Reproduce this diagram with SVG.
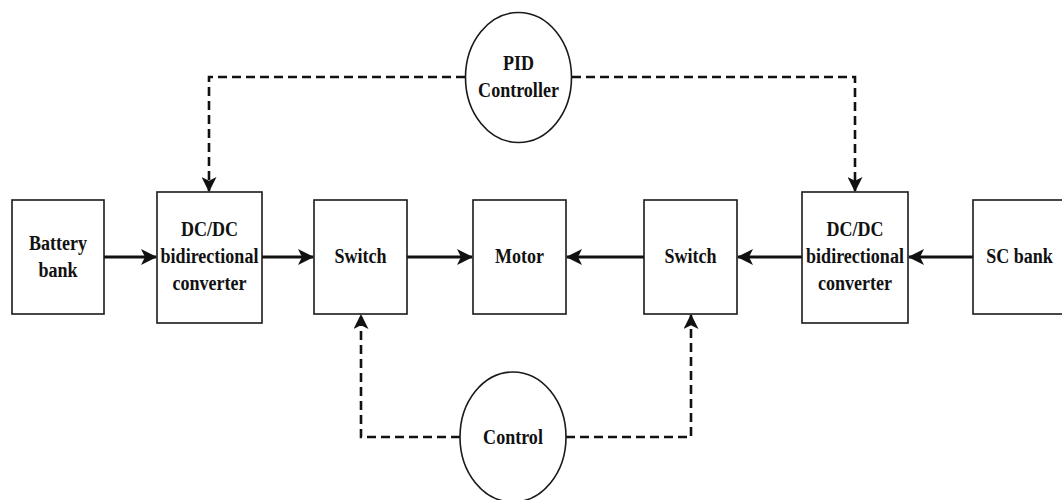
<svg xmlns="http://www.w3.org/2000/svg" width="1062" height="500" viewBox="0 0 1062 500">
  <defs>
    <style>
      .box { fill: #ffffff; stroke: #1a1a1a; stroke-width: 1.6; }
      .oval { fill: #ffffff; stroke: #1a1a1a; stroke-width: 1.6; }
      .lbl { font-family: "Liberation Serif", "Times New Roman", serif; font-weight: bold; font-size: 22px; fill: #111111; text-anchor: middle; }
      .flow { fill: none; stroke: #111111; stroke-width: 3; }
      .ctrl { fill: none; stroke: #111111; stroke-width: 2.6; stroke-dasharray: 9 5; }
    </style>
    <marker id="solidHead" markerUnits="userSpaceOnUse" viewBox="0 0 16 16" markerWidth="16" markerHeight="16" refX="15" refY="8" orient="auto">
      <path d="M0,0 L16,8 L0,16 L4,8 Z" fill="#111111"/>
    </marker>
    <marker id="dashHead" markerUnits="userSpaceOnUse" viewBox="0 0 15 15" markerWidth="15" markerHeight="15" refX="14" refY="7.5" orient="auto">
      <path d="M0,0 L15,7.5 L0,15 L3.8,7.5 Z" fill="#111111"/>
    </marker>
  </defs>

  <rect width="1062" height="500" fill="#ffffff"/>

  <!-- connectors -->
  <g id="connectors">
    <!-- power flow -->
    <line class="flow" x1="104" y1="257" x2="156" y2="257" marker-end="url(#solidHead)"/>
    <line class="flow" x1="262" y1="257" x2="313" y2="257" marker-end="url(#solidHead)"/>
    <line class="flow" x1="407" y1="257" x2="472" y2="257" marker-end="url(#solidHead)"/>
    <line class="flow" x1="644" y1="257" x2="567" y2="257" marker-end="url(#solidHead)"/>
    <line class="flow" x1="802" y1="257" x2="738" y2="257" marker-end="url(#solidHead)"/>
    <line class="flow" x1="973" y1="257" x2="909" y2="257" marker-end="url(#solidHead)"/>
    <!-- PID control signals -->
    <polyline class="ctrl" points="465,77 209,77 209,191" marker-end="url(#dashHead)"/>
    <polyline class="ctrl" points="572,77 855,77 855,191" marker-end="url(#dashHead)"/>
    <!-- switch control signals -->
    <polyline class="ctrl" points="460,437 361,437 361,315" marker-end="url(#dashHead)"/>
    <polyline class="ctrl" points="566,437 691,437 691,315" marker-end="url(#dashHead)"/>
  </g>

  <g id="battery-bank">
    <rect class="box" x="12" y="200" width="92" height="114"/>
    <g transform="translate(58,0) scale(0.82,1)">
      <text class="lbl" x="0" y="250">Battery</text>
      <text class="lbl" x="0" y="277">bank</text>
    </g>
  </g>

  <g id="converter-left">
    <rect class="box" x="157" y="192" width="105" height="131"/>
    <g transform="translate(209.5,0) scale(0.82,1)">
      <text class="lbl" x="0" y="236">DC/DC</text>
      <text class="lbl" x="0" y="263">bidirectional</text>
      <text class="lbl" x="0" y="290">converter</text>
    </g>
  </g>

  <g id="switch-left">
    <rect class="box" x="314" y="200" width="93" height="114"/>
    <g transform="translate(360.5,0) scale(0.82,1)">
      <text class="lbl" x="0" y="263">Switch</text>
    </g>
  </g>

  <g id="motor">
    <rect class="box" x="473" y="200" width="93" height="114"/>
    <g transform="translate(519.5,0) scale(0.82,1)">
      <text class="lbl" x="0" y="263">Motor</text>
    </g>
  </g>

  <g id="switch-right">
    <rect class="box" x="644" y="200" width="93" height="114"/>
    <g transform="translate(690.5,0) scale(0.82,1)">
      <text class="lbl" x="0" y="263">Switch</text>
    </g>
  </g>

  <g id="converter-right">
    <rect class="box" x="802" y="192" width="106" height="131"/>
    <g transform="translate(855,0) scale(0.82,1)">
      <text class="lbl" x="0" y="236">DC/DC</text>
      <text class="lbl" x="0" y="263">bidirectional</text>
      <text class="lbl" x="0" y="290">converter</text>
    </g>
  </g>

  <g id="sc-bank">
    <rect class="box" x="973" y="200" width="93" height="114"/>
    <g transform="translate(1019.5,0) scale(0.82,1)">
      <text class="lbl" x="0" y="263">SC bank</text>
    </g>
  </g>

  <g id="pid-controller">
    <ellipse class="oval" cx="518.5" cy="77.5" rx="53" ry="65"/>
    <g transform="translate(518.5,0) scale(0.82,1)">
      <text class="lbl" x="0" y="70">PID</text>
      <text class="lbl" x="0" y="97">Controller</text>
    </g>
  </g>

  <g id="control">
    <ellipse class="oval" cx="513" cy="437" rx="53" ry="65"/>
    <g transform="translate(513,0) scale(0.82,1)">
      <text class="lbl" x="0" y="444">Control</text>
    </g>
  </g>
</svg>
